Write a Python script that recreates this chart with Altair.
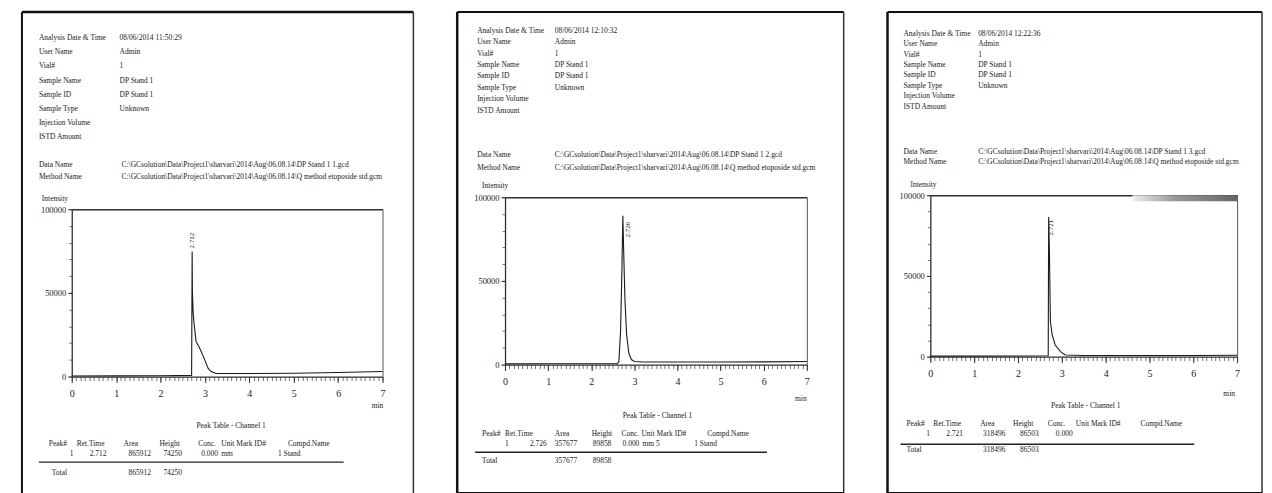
import altair as alt
import pandas as pd

# ---------------- data ----------------
HEADER_LABELS = ["Analysis Date & Time", "User Name", "Vial#", "Sample Name", "Sample ID",
                 "Sample Type", "Injection Volume", "ISTD Amount"]
FILE_LABELS = ["Data Name", "Method Name"]
TABLE_COLUMNS = ["Peak#", "Ret.Time", "Area", "Height", "Conc.", "Unit Mark ID#", "Compd.Name"]
TABLE_CAPTION = "Peak Table - Channel 1"
X_TICKS = [0, 1, 2, 3, 4, 5, 6, 7]
Y_TICKS = [0, 50000, 100000]
X_MINOR = [i / 10 for i in range(71)]
Y_MINOR = [i * 10000 for i in range(11)]

p1_info = ["08/06/2014 11:50:29", "Admin", "1", "DP Stand 1", "DP Stand 1", "Unknown", "", ""]
p1_files = ["C:\\GCsolution\\Data\\Project1\\sharvari\\2014\\Aug\\06.08.14\\DP Stand 1 1.gcd",
            "C:\\GCsolution\\Data\\Project1\\sharvari\\2014\\Aug\\06.08.14\\Q method etoposide std.gcm"]
p1_time = [0.0, 1.0, 2.0, 2.70, 2.705, 2.712, 2.718, 2.735, 2.75, 2.80, 2.88, 2.98, 3.07, 3.14, 3.25, 4.0, 5.0, 6.0, 7.0]
p1_intensity = [300, 400, 500, 700, 30000, 74700, 50000, 38000, 33000, 21000, 17000, 11000, 5000, 3000, 1800, 1800, 2000, 2400, 3000]
p1_peak_label = "2.712"
p1_row = ["1", "2.712", "865912", "74250", "0.000", "mm", "1  Stand"]
p1_total = ["Total", "", "865912", "74250", "", "", ""]

p2_info = ["08/06/2014 12:10:32", "Admin", "1", "DP Stand 1", "DP Stand 1", "Unknown", "", ""]
p2_files = ["C:\\GCsolution\\Data\\Project1\\sharvari\\2014\\Aug\\06.08.14\\DP Stand 1 2.gcd",
            "C:\\GCsolution\\Data\\Project1\\sharvari\\2014\\Aug\\06.08.14\\Q method etoposide std.gcm"]
p2_time = [0.0, 1.0, 2.0, 2.60, 2.64, 2.68, 2.71, 2.733, 2.75, 2.78, 2.82, 2.87, 2.93, 3.0, 3.2, 4.0, 5.0, 6.0, 7.0]
p2_intensity = [400, 500, 500, 600, 1500, 20000, 55000, 89000, 70000, 40000, 18000, 7000, 3000, 1800, 1500, 1500, 1500, 1600, 1800]
p2_peak_label = "2.726"
p2_row = ["1", "2.726", "357677", "89858", "0.000", "mm  5", "1  Stand"]
p2_total = ["Total", "", "357677", "89858", "", "", ""]

p3_info = ["08/06/2014 12:22:36", "Admin", "1", "DP Stand 1", "DP Stand 1", "Unknown", "", ""]
p3_files = ["C:\\GCsolution\\Data\\Project1\\sharvari\\2014\\Aug\\06.08.14\\DP Stand 1 3.gcd",
            "C:\\GCsolution\\Data\\Project1\\sharvari\\2014\\Aug\\06.08.14\\Q method etoposide std.gcm"]
p3_time = [0.0, 1.0, 2.0, 2.69, 2.700, 2.71, 2.72, 2.735, 2.74, 2.78, 2.85, 2.97, 3.08, 3.5, 4.0, 5.0, 6.0, 7.0]
p3_intensity = [300, 300, 400, 500, 86600, 75000, 60000, 30000, 21600, 13400, 7200, 3100, 1000, 700, 700, 700, 700, 800]
p3_peak_label = "2.721"
p3_row = ["1", "2.721", "318496", "86503", "0.000", "", ""]
p3_total = ["Total", "", "318496", "86503", "", "", ""]

# ---------------- layout (page pixel coordinates) ----------------
FONT = "Liberation Serif, serif"
INK = "#222222"
AXIS = "#303030"
LINE = "#1a1a1a"
FS = 7.5

LAYOUT = [
    dict(origin=(20, 9), size=(393, 500), borders=dict(top=2.5, left=2, right=1.5),
         lab_x=37, val_x=118, rows=(35, 135), file_val_x=120, file_rows=(163, 175),
         intensity=(40, 197), x0=70, x1=382, ytop=207, y0=375, minlab=(377, 405),
         pk=dict(align="left", dx=3, dy=0),
         caption=(230, 425), head_y=443, head_x=[47, 75, 122, 158, 197, 220, 287],
         row_y=453, row_x=[68, 88, 127, 162, 200, 220, 277], rule=(37, 343, 461),
         total_y=472, total_x=[50, 88, 127, 162, 200, 220, 277], band=None),
    dict(origin=(457, 9), size=(388, 483), borders=dict(top=2, left=2.5, right=1.5, bottom=2),
         lab_x=477, val_x=555, rows=(28, 108), file_val_x=555, file_rows=(153, 166),
         intensity=(482, 184), x0=505, x1=808, ytop=195, y0=363, minlab=(802, 398),
         pk=dict(align="left", dx=-22, dy=5),
         caption=(658, 415), head_y=433, head_x=[482, 505, 555, 592, 622, 642, 708],
         row_y=443, row_x=[505, 530, 555, 593, 623, 643, 695], rule=(475, 768, 451),
         total_y=460, total_x=[482, 530, 555, 593, 623, 643, 695], band=None),
    dict(origin=(889, 9), size=(376, 483), borders=dict(top=2, left=2.5, right=1.5, bottom=2),
         lab_x=905, val_x=980, rows=(31, 104), file_val_x=980, file_rows=(150, 160),
         intensity=(912, 183), x0=932, x1=1240, ytop=193, y0=355, minlab=(1232, 393),
         pk=dict(align="right", dx=-3, dy=2),
         caption=(1088, 405), head_y=423, head_x=[908, 935, 982, 1015, 1050, 1078, 1143],
         row_y=433, row_x=[928, 948, 985, 1022, 1058, 1078, 1143], rule=(902, 1197, 443),
         total_y=449, total_x=[908, 948, 985, 1022, 1058, 1078, 1143], band=(1135, 1240, 193, 199)),
]

ONE = pd.DataFrame({"k": [0]})


def build_panel(L, info, files, time, inten, peak_label, row, total):
    ox, oy = L["origin"]
    W, H = L["size"]

    def rx(v):
        return v - ox

    def ry(v):
        return v - oy

    txt = dict(font=FONT, color=INK, baseline="middle")
    layers = []

    # header block
    hdr = pd.DataFrame({"row": list(range(8)) * 2, "col": [0] * 8 + [1] * 8,
                        "text": HEADER_LABELS + info})
    layers.append(alt.Chart(hdr).mark_text(fontSize=FS, align="left", **txt).encode(
        x=alt.X("col:Q", scale=alt.Scale(domain=[0, 1], range=[rx(L["lab_x"]), rx(L["val_x"])], nice=False, zero=False), axis=None),
        y=alt.Y("row:Q", scale=alt.Scale(domain=[0, 7], range=[ry(L["rows"][0]), ry(L["rows"][1])], nice=False, zero=False), axis=None),
        text="text:N"))
    fl = pd.DataFrame({"row": [0, 1, 0, 1], "col": [0, 0, 1, 1], "text": FILE_LABELS + files})
    layers.append(alt.Chart(fl).mark_text(fontSize=FS, align="left", **txt).encode(
        x=alt.X("col:Q", scale=alt.Scale(domain=[0, 1], range=[rx(L["lab_x"]), rx(L["file_val_x"])], nice=False, zero=False), axis=None),
        y=alt.Y("row:Q", scale=alt.Scale(domain=[0, 1], range=[ry(L["file_rows"][0]), ry(L["file_rows"][1])], nice=False, zero=False), axis=None),
        text="text:N"))

    # axis label texts
    layers.append(alt.Chart(ONE).mark_text(fontSize=FS, align="left", text="Intensity", **txt).encode(
        x=alt.value(rx(L["intensity"][0])), y=alt.value(ry(L["intensity"][1]))))
    layers.append(alt.Chart(ONE).mark_text(fontSize=FS, align="center", text="min", **txt).encode(
        x=alt.value(rx(L["minlab"][0])), y=alt.value(ry(L["minlab"][1]))))

    # scanned grey band on the top frame line (panel 3)
    if L["band"]:
        bx0, bx1, by0, by1 = L["band"]
        layers.append(alt.Chart(ONE).mark_rect(
            color=alt.LinearGradient(gradient="linear", x1=0, x2=1, y1=0, y2=0,
                                     stops=[alt.GradientStop(color="#eeeeee", offset=0),
                                            alt.GradientStop(color="#999999", offset=0.4),
                                            alt.GradientStop(color="#666666", offset=1)])).encode(
            x=alt.value(rx(bx0)), x2=alt.value(rx(bx1)), y=alt.value(ry(by0)), y2=alt.value(ry(by1))))

    # chromatogram
    xs = alt.Scale(domain=[0, 7], range=[rx(L["x0"]), rx(L["x1"])], nice=False, zero=False)
    ys = alt.Scale(domain=[0, 100000], range=[ry(L["y0"]), ry(L["ytop"])], nice=False, zero=False)
    chrom = pd.DataFrame({"t": time, "v": inten})
    xoff = ry(L["y0"]) - H
    yoff = -rx(L["x0"])
    common = dict(title=None, grid=False, labelFont=FONT, labelColor=INK, domainColor=AXIS,
                  tickColor=AXIS, labelFlush=False, labelOverlap=False)
    layers.append(alt.Chart(chrom).mark_line(strokeOpacity=0).encode(
        x=alt.X("t:Q", scale=xs, axis=alt.Axis(orient="bottom", values=X_MINOR, labels=False, domain=False,
                                               tickSize=4, tickColor="#555", tickWidth=0.8, offset=xoff, grid=False, title=None)),
        y=alt.Y("v:Q", scale=ys, axis=alt.Axis(orient="left", values=Y_MINOR, labels=False, domain=False,
                                               tickSize=3, tickColor="#555", tickWidth=0.8, offset=yoff, grid=False, title=None))))
    layers.append(alt.Chart(chrom).mark_line(strokeOpacity=0).encode(
        x=alt.X("t:Q", scale=xs, axis=alt.Axis(orient="top", offset=-ry(L["ytop"]), labels=False, ticks=False,
                                               domainColor=AXIS, domainWidth=1.6, grid=False, title=None)),
        y=alt.Y("v:Q", scale=ys, axis=alt.Axis(orient="right", offset=rx(L["x1"]) - W, labels=False, ticks=False,
                                               domainColor="#555", domainWidth=1, grid=False, title=None))))
    layers.append(alt.Chart(chrom).mark_line(color=LINE, strokeWidth=1.1).encode(
        x=alt.X("t:Q", scale=xs, axis=alt.Axis(orient="bottom", values=X_TICKS, format="d", offset=xoff,
                                               tickSize=6, labelPadding=6, labelFontSize=10, domainWidth=1.3, **common)),
        y=alt.Y("v:Q", scale=ys, axis=alt.Axis(orient="left", values=Y_TICKS, format="d", offset=yoff,
                                               tickSize=4, labelPadding=2, labelFontSize=8.5, domainWidth=1.3, **common))))

    # peak label (apex of the series)
    i_max = max(range(len(inten)), key=lambda i: inten[i])
    pk = pd.DataFrame({"t": [time[i_max]], "v": [inten[i_max]], "text": [peak_label]})
    layers.append(alt.Chart(pk).mark_text(angle=270, fontSize=7, align=L["pk"]["align"], dx=L["pk"]["dx"],
                                          dy=L["pk"]["dy"], **txt).encode(
        x=alt.X("t:Q", scale=xs, axis=None), y=alt.Y("v:Q", scale=ys, axis=None), text="text:N"))

    # peak table
    layers.append(alt.Chart(ONE).mark_text(fontSize=FS, align="center", text=TABLE_CAPTION, **txt).encode(
        x=alt.value(rx(L["caption"][0])), y=alt.value(ry(L["caption"][1]))))
    for cells, xpos, ypos in [(TABLE_COLUMNS, L["head_x"], L["head_y"]),
                              (row, L["row_x"], L["row_y"]),
                              (total, L["total_x"], L["total_y"])]:
        df = pd.DataFrame({"col": list(range(len(cells))), "text": cells})
        layers.append(alt.Chart(df).mark_text(fontSize=FS, align="left", **txt).encode(
            x=alt.X("col:Q", scale=alt.Scale(domain=list(range(len(cells))), range=[rx(v) for v in xpos],
                                             nice=False, zero=False), axis=None),
            y=alt.value(ry(ypos)), text="text:N"))
    r0, r1, ryy = L["rule"]
    layers.append(alt.Chart(ONE).mark_rule(color=INK, strokeWidth=1.3).encode(
        x=alt.value(rx(r0)), x2=alt.value(rx(r1)), y=alt.value(ry(ryy))))

    # panel borders
    b = L["borders"]
    if "top" in b:
        layers.append(alt.Chart(ONE).mark_rule(color="#111", strokeWidth=b["top"]).encode(
            x=alt.value(0), x2=alt.value(W), y=alt.value(0)))
    if "left" in b:
        layers.append(alt.Chart(ONE).mark_rule(color="#111", strokeWidth=b["left"]).encode(
            x=alt.value(0), y=alt.value(0), y2=alt.value(H)))
    if "right" in b:
        layers.append(alt.Chart(ONE).mark_rule(color="#333", strokeWidth=b["right"]).encode(
            x=alt.value(W), y=alt.value(0), y2=alt.value(H)))
    if "bottom" in b:
        layers.append(alt.Chart(ONE).mark_rule(color="#111", strokeWidth=b["bottom"]).encode(
            x=alt.value(0), x2=alt.value(W), y=alt.value(H)))

    return alt.layer(*layers).resolve_scale(x="independent", y="independent").resolve_axis(
        x="independent", y="independent").properties(width=W, height=H)


panels = [
    build_panel(LAYOUT[0], p1_info, p1_files, p1_time, p1_intensity, p1_peak_label, p1_row, p1_total),
    build_panel(LAYOUT[1], p2_info, p2_files, p2_time, p2_intensity, p2_peak_label, p2_row, p2_total),
    build_panel(LAYOUT[2], p3_info, p3_files, p3_time, p3_intensity, p3_peak_label, p3_row, p3_total),
]

chart = alt.hconcat(*panels, spacing=44, bounds="flush").configure(
    padding={"left": 12, "top": 1, "right": 0, "bottom": 0}, font=FONT, background="white"
).configure_view(stroke="transparent")

chart.save("out.html", embed_options={"renderer": "svg", "actions": False})
